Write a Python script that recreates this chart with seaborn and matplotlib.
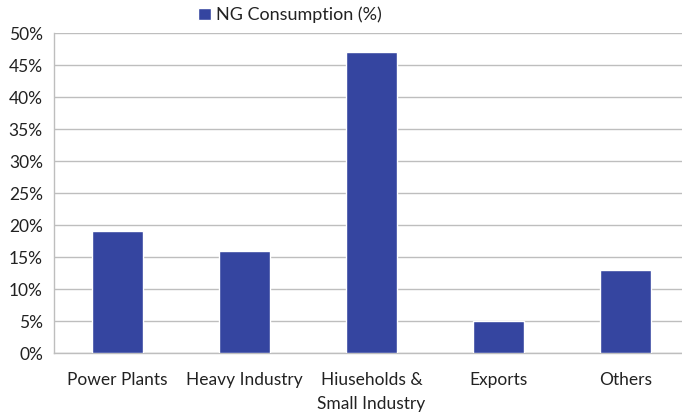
import matplotlib
matplotlib.use("Agg")
import matplotlib.pyplot as plt
import seaborn as sns
import pandas as pd
from matplotlib.ticker import FixedLocator, PercentFormatter

# data
categories = ["Power Plants", "Heavy Industry", "Hiuseholds &\nSmall Industry", "Exports", "Others"]
consumption = [19, 16, 47, 5, 13]

df = pd.DataFrame({"sector": categories, "NG Consumption (%)": consumption})

sns.set_style("white")
plt.rcParams['font.family'] = ['Lato', 'DejaVu Sans']

fig = plt.figure(figsize=(6.82, 4.13), dpi=100)
ax = fig.add_axes([54 / 682, 1 - 353 / 413, 628 / 682, 320 / 413])

bar_color = "#3545A0"
sns.barplot(data=df, x="sector", y="NG Consumption (%)", color=bar_color, saturation=1,
            width=0.4, ax=ax, label="NG Consumption (%)", zorder=3)

ax.set_ylim(0, 50)
ax.set_xlim(-0.5, -0.5 + 628 / 127)
ax.set_yticks(range(0, 51, 5))
ax.yaxis.set_major_formatter(PercentFormatter(decimals=0))
ax.grid(axis="y", color="#BEBEBE", linewidth=1, zorder=0)
ax.set_xlabel("")
ax.set_ylabel("")

for s in ["top", "right"]:
    ax.spines[s].set_visible(False)
for s in ["left", "bottom"]:
    ax.spines[s].set_color("#BEBEBE")
    ax.spines[s].set_linewidth(1)

# ticks between categories like the original
ax.xaxis.set_minor_locator(FixedLocator([i - 0.5 for i in range(len(categories) + 1)]))
ax.tick_params(axis="x", which="major", length=0, pad=14, labelsize=12.5, labelcolor="#222222")
ax.tick_params(axis="x", which="minor", length=6, color="#BEBEBE", direction="out")
ax.tick_params(axis="y", which="major", length=5, color="#BEBEBE", direction="out",
               labelsize=12.5, labelcolor="#222222", pad=3)
for lbl in ax.get_xticklabels():
    lbl.set_linespacing(1.55)

leg = ax.legend(loc="center", bbox_to_anchor=(0.425, 1 - 15 / 413),
                bbox_transform=fig.transFigure, frameon=False, fontsize=13,
                handlelength=0.7, handleheight=0.7, handletextpad=0.3)
for t in leg.get_texts():
    t.set_color("#222222")

fig.savefig("out.png", dpi=100)
